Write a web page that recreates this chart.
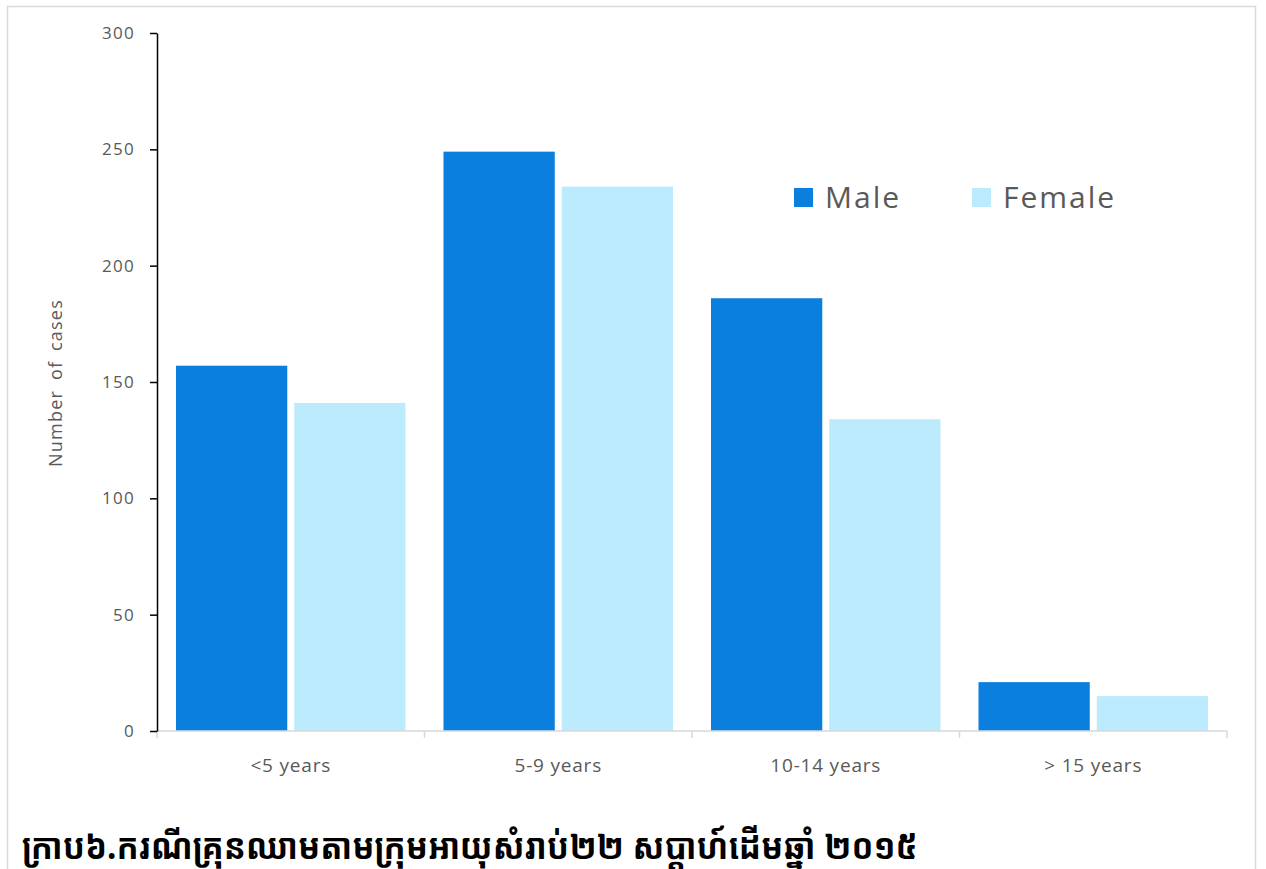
<!DOCTYPE html>
<html>
<head>
<meta charset="utf-8">
<script src="https://cdn.jsdelivr.net/npm/d3@7"></script>
<style>
  body { margin: 0; background: #fff; }
  svg { display: block; }
</style>
</head>
<body>
<div id="chart"></div>
<script>
'use strict'

// data
var ageGroups = ['<5 years', '5-9 years', '10-14 years', '> 15 years']
var seriesNames = ['Male', 'Female']
var maleCases = [157, 249, 186, 21]
var femaleCases = [141, 234, 134, 15]
var yTicks = [0, 50, 100, 150, 200, 250, 300]
var caption = 'ក្រាប៦.ករណីគ្រុនឈាមតាមក្រុមអាយុសំរាប់២២ សប្តាហ៍ដើមឆ្នាំ ២០១៥'

var colors = { Male: '#0a7fde', Female: '#bdebfe' }
var textGray = '#595959'
var font = '"Open Sans", "Noto Sans", sans-serif'

var W = 1266
var H = 869
var margin = { top: 33, right: 39, bottom: 138, left: 157 }
var width = W - margin.left - margin.right
var height = H - margin.top - margin.bottom

var svg = d3
  .select('#chart')
  .append('svg')
  .attr('width', W)
  .attr('height', H)

// outer frame
svg
  .append('rect')
  .attr('x', 7.5)
  .attr('y', 6.5)
  .attr('width', 1248)
  .attr('height', 900)
  .attr('fill', 'none')
  .attr('stroke', '#d9d9d9')
  .attr('stroke-width', 1.5)

var g = svg
  .append('g')
  .attr('transform', 'translate(' + margin.left + ',' + margin.top + ')')

var x0 = d3
  .scaleBand()
  .domain(ageGroups)
  .range([0, width])
  .padding(0)

var x1 = d3
  .scaleBand()
  .domain(seriesNames)
  .range([19, x0.bandwidth() - 19])
  .paddingInner(0.059)

var y = d3
  .scaleLinear()
  .domain([0, 300])
  .range([height, 0])

var rows = ageGroups.map(function(a, i) {
  return { group: a, values: [
    { key: 'Male', v: maleCases[i] },
    { key: 'Female', v: femaleCases[i] }
  ] }
})

// bars
var grp = g
  .selectAll('g.grp')
  .data(rows)
  .enter()
  .append('g')
  .attr('class', 'grp')
  .attr('transform', function(d) {
    return 'translate(' + x0(d.group) + ',0)'
  })

grp
  .selectAll('rect')
  .data(function(d) { return d.values })
  .enter()
  .append('rect')
  .attr('x', function(d) { return x1(d.key) })
  .attr('y', function(d) { return y(d.v) })
  .attr('width', x1.bandwidth())
  .attr('height', function(d) { return height - y(d.v) })
  .attr('fill', function(d) { return colors[d.key] })

// x axis: gray baseline with ticks at category boundaries
var xAxis = g
  .append('g')
  .attr('transform', 'translate(0,' + height + ')')

xAxis
  .append('line')
  .attr('x1', 0)
  .attr('x2', width)
  .attr('stroke', '#d9d9d9')
  .attr('stroke-width', 1.5)

var bounds = ageGroups.map(function(a) { return x0(a) }).concat([width])
xAxis
  .selectAll('line.tick')
  .data(bounds)
  .enter()
  .append('line')
  .attr('class', 'tick')
  .attr('x1', function(d) { return d })
  .attr('x2', function(d) { return d })
  .attr('y1', 0)
  .attr('y2', 7)
  .attr('stroke', '#d9d9d9')
  .attr('stroke-width', 1.5)

xAxis
  .selectAll('text')
  .data(ageGroups)
  .enter()
  .append('text')
  .attr('x', function(d) { return x0(d) + x0.bandwidth() / 2 })
  .attr('y', 41)
  .attr('text-anchor', 'middle')
  .attr('font-family', font)
  .attr('font-size', '19px')
  .attr('letter-spacing', '0.8px')
  .attr('fill', textGray)
  .text(function(d) { return d })

// y axis
var yAxis = d3
  .axisLeft(y)
  .tickValues(yTicks)
  .tickSize(7)
  .tickSizeOuter(0)
  .tickPadding(15)

var ya = g.append('g').call(yAxis)
ya.select('.domain').attr('stroke', '#000').attr('stroke-width', 1.5)
ya.selectAll('.tick line').attr('stroke', '#000').attr('stroke-width', 1.5)
ya.selectAll('.tick text')
  .attr('font-family', font)
  .attr('font-size', '17px')
  .attr('letter-spacing', '1.3px')
  .attr('fill', textGray)

svg
  .append('text')
  .attr('transform', 'translate(62,383) rotate(-90)')
  .attr('text-anchor', 'middle')
  .attr('font-family', font)
  .attr('font-size', '18px')
  .attr('letter-spacing', '1.2px')
  .attr('word-spacing', '4px')
  .attr('fill', textGray)
  .text('Number of cases')

// legend
var legendX = [794, 972]
var legend = svg
  .selectAll('g.legend')
  .data(seriesNames)
  .enter()
  .append('g')
  .attr('class', 'legend')
  .attr('transform', function(d, i) {
    return 'translate(' + legendX[i] + ',188)'
  })

legend
  .append('rect')
  .attr('width', 19)
  .attr('height', 19)
  .attr('fill', function(d) { return colors[d] })

legend
  .append('text')
  .attr('x', 31)
  .attr('y', 20)
  .attr('font-family', font)
  .attr('font-size', '30px')
  .attr('letter-spacing', '2px')
  .attr('fill', textGray)
  .text(function(d) { return d })

// caption (condensed look of the original font)
svg
  .append('text')
  .attr('transform', 'translate(22,859) scale(0.91,1)')
  .attr('font-family', '"Noto Sans Khmer", "Khmer OS", "DejaVu Sans", sans-serif')
  .attr('font-size', '36px')
  .attr('font-weight', 'bold')
  .attr('fill', '#000')
  .text(caption)
</script>
</body>
</html>
